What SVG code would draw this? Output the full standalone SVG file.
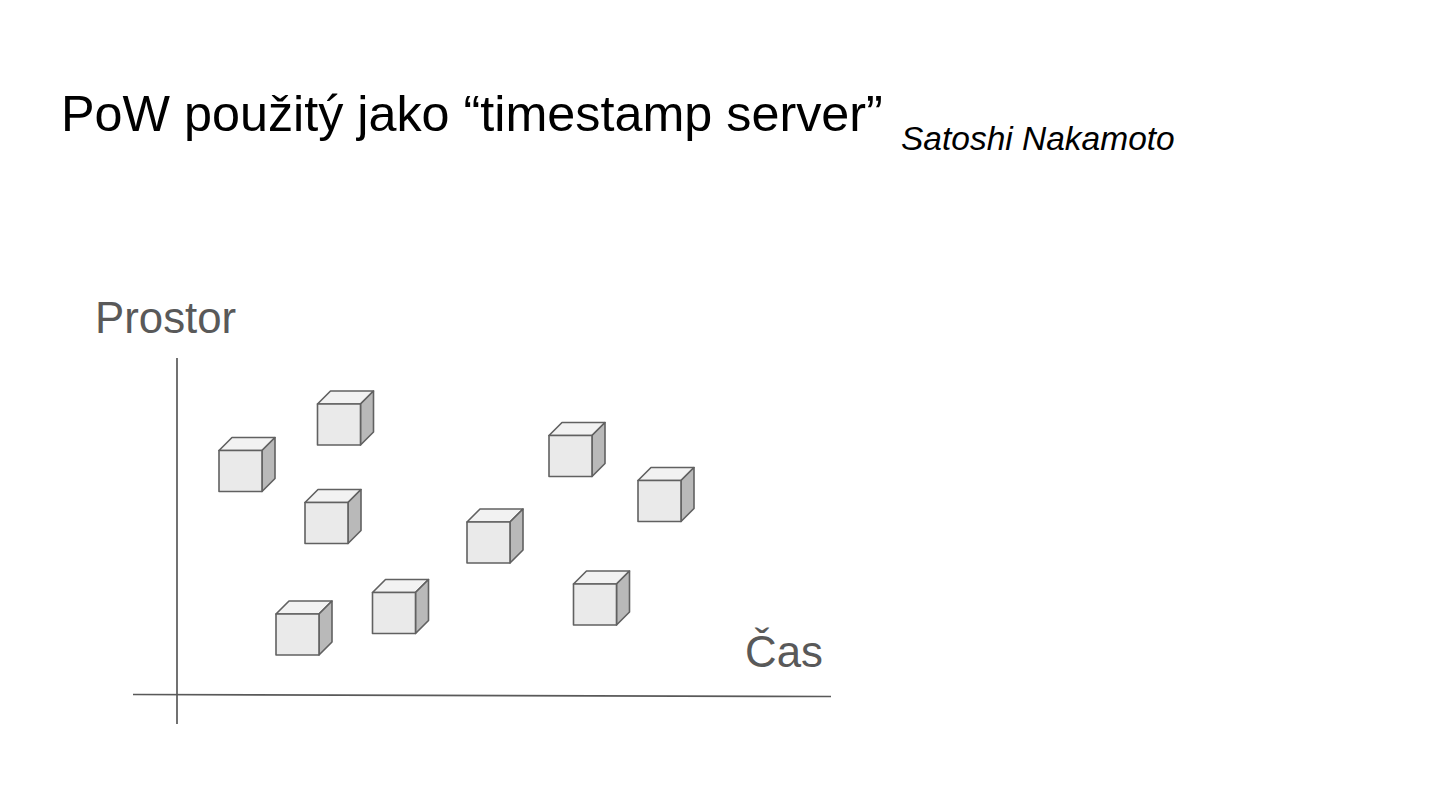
<svg xmlns="http://www.w3.org/2000/svg" xmlns:xlink="http://www.w3.org/1999/xlink" width="1440" height="810" viewBox="0 0 1440 810">
<style>
.title{font-family:"Liberation Sans",Arial,sans-serif;font-size:50.3px;fill:#000}
.author{font-family:"Liberation Sans",Arial,sans-serif;font-size:33.5px;font-style:italic;fill:#000}
.axislabel{font-family:"Liberation Sans",Arial,sans-serif;font-size:43.8px;fill:#595959}
.axis{stroke:#595959;stroke-width:1.7;fill:none}
.front{fill:#eaeaea}
.top{fill:#f2f2f2}
.side{fill:#b9b9b9}
.edge{stroke:#616161;stroke-width:1.6;stroke-linejoin:round}
</style>
<defs>
<g id="cube" class="edge">
<polygon class="top" points="0,0 13,-13 56,-13 43,0"/>
<polygon class="side" points="43,0 56,-13 56,28 43,41"/>
<rect class="front" x="0" y="0" width="43" height="41"/>
</g>
</defs>
<rect width="1440" height="810" fill="#fff"/>
<text class="title" x="61" y="131">PoW použitý jako “timestamp server”</text>
<text class="author" x="901" y="150">Satoshi Nakamoto</text>
<text class="axislabel" x="95" y="333">Prostor</text>
<text class="axislabel" x="745" y="667">Čas</text>
<g id="axes">
<line class="axis" x1="177" y1="358" x2="177" y2="724"/>
<line class="axis" x1="133" y1="694.5" x2="831" y2="696.5"/>
</g>
<g id="cube1" transform="translate(219,450.5)"><use xlink:href="#cube" href="#cube"/></g>
<g id="cube2" transform="translate(317.5,404)"><use xlink:href="#cube" href="#cube"/></g>
<g id="cube3" transform="translate(305,502.5)"><use xlink:href="#cube" href="#cube"/></g>
<g id="cube4" transform="translate(549,435.5)"><use xlink:href="#cube" href="#cube"/></g>
<g id="cube5" transform="translate(638,480.5)"><use xlink:href="#cube" href="#cube"/></g>
<g id="cube6" transform="translate(467,522)"><use xlink:href="#cube" href="#cube"/></g>
<g id="cube7" transform="translate(276,614)"><use xlink:href="#cube" href="#cube"/></g>
<g id="cube8" transform="translate(372.5,592.5)"><use xlink:href="#cube" href="#cube"/></g>
<g id="cube9" transform="translate(573.5,584)"><use xlink:href="#cube" href="#cube"/></g>
</svg>
